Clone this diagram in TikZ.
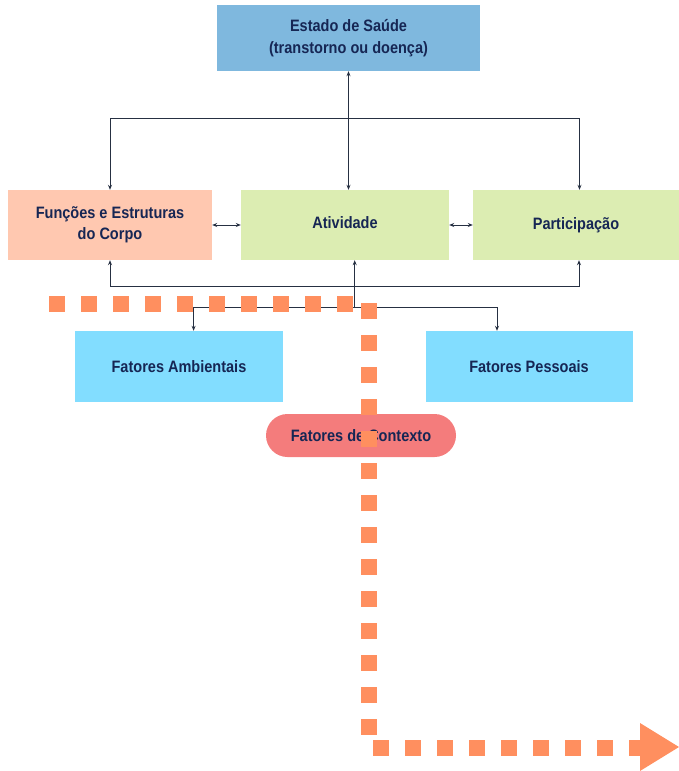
\documentclass[tikz,border=0pt]{standalone}
\usepackage{fontspec}
\setmainfont{Liberation Sans}[FakeStretch=0.88]
\usetikzlibrary{
	arrows.meta,
	calc,
	positioning,
}
\definecolor{navy}{RGB}{22,38,84}
\definecolor{linec}{RGB}{38,48,66}
\definecolor{saudeblue}{RGB}{127,184,222}
\definecolor{peach}{RGB}{255,200,176}
\definecolor{lightgreen}{RGB}{220,237,178}
\definecolor{skyblue}{RGB}{130,221,255}
\definecolor{pillred}{RGB}{244,124,124}
\definecolor{dotorange}{RGB}{255,143,95}

\begin{document}
\begin{tikzpicture}[x=1pt,y=-1pt,
		box/.style={inner sep=0pt, align=center, text=navy,
			font=\bfseries\fontsize{16.5}{21.5}\selectfont},
		link/.style={draw=linec, line width=0.8pt},
		tip/.style={-{Stealth[length=5pt,width=4pt]}},
		bothtips/.style={{Stealth[length=5pt,width=4pt]}-{Stealth[length=5pt,width=4pt]}},
		dot/.style={fill=dotorange},
	]
			\useasboundingbox (0,0) rectangle (679,771);
			% caixas
			\node[box, fill=saudeblue, minimum width=263pt, minimum height=66pt] (saude) at (348.5,38) {Estado de Saúde\\(transtorno ou doença)};
			\node[box, fill=peach, minimum width=204pt, minimum height=70pt] (funcoes) at (110,225) {Funções e Estruturas\\do Corpo};
			\node[box, fill=lightgreen, minimum width=208pt, minimum height=70pt] (atividade) at (345,225) {\raisebox{4pt}{Atividade}};
			\node[box, fill=lightgreen, minimum width=206pt, minimum height=70pt] (particip) at (576,225) {Participação};
			\node[box, fill=skyblue, minimum width=208pt, minimum height=71pt] (ambient) at (179,366.5) {Fatores Ambientais};
			\node[box, fill=skyblue, minimum width=207pt, minimum height=71pt] (pessoal) at (529,366.5) {Fatores Pessoais};
			\node[box, fill=pillred, minimum width=190pt, minimum height=43pt, rounded corners=21.5pt] (contexto) at (361,435.5) {Fatores de Contexto};
			% ligacoes de cima
			\coordinate (topbus) at (348.5,118);
			\draw[link, bothtips] (saude.south) -- (saude.south |- atividade.north);
			\draw[link, tip] (topbus) -| (funcoes.north);
			\draw[link, tip] (topbus) -| ($(particip.north)+(3.5,0)$);
			\draw[link, bothtips] (funcoes.east) -- (atividade.west);
			\draw[link, bothtips] (atividade.east) -- (particip.west);
			% ligacoes de baixo
			\coordinate (botbus) at (354.7,286);
			\coordinate (ctxbus) at (354.7,307);
			\draw[link, tip] (botbus) -| (funcoes.south);
			\draw[link, tip] (botbus) -| ($(particip.south)+(3,0)$);
			\draw[link, tip] (ctxbus) -- ($(atividade.south)+(9.7,0)$);
			\draw[link, tip] (ctxbus) -| ($(ambient.north)+(14.6,0)$);
			\draw[link, tip] (ctxbus) -| ($(pessoal.north)+(-32,0)$);
			% linha tracejada laranja
			\foreach \i in {0,...,9}
				\fill[dot] ({49+32*\i},296) rectangle +(16,15.5);
			\foreach \i in {0,...,13}
				\fill[dot] (361,{303+32*\i}) rectangle +(16,16);
			\foreach \i in {0,...,8}
				\fill[dot] ({373+32*\i},740) rectangle +(16,15.5);
			\fill[dot] (640,723) -- (679,747) -- (640,771) -- cycle;
		\end{tikzpicture}
\end{document}
